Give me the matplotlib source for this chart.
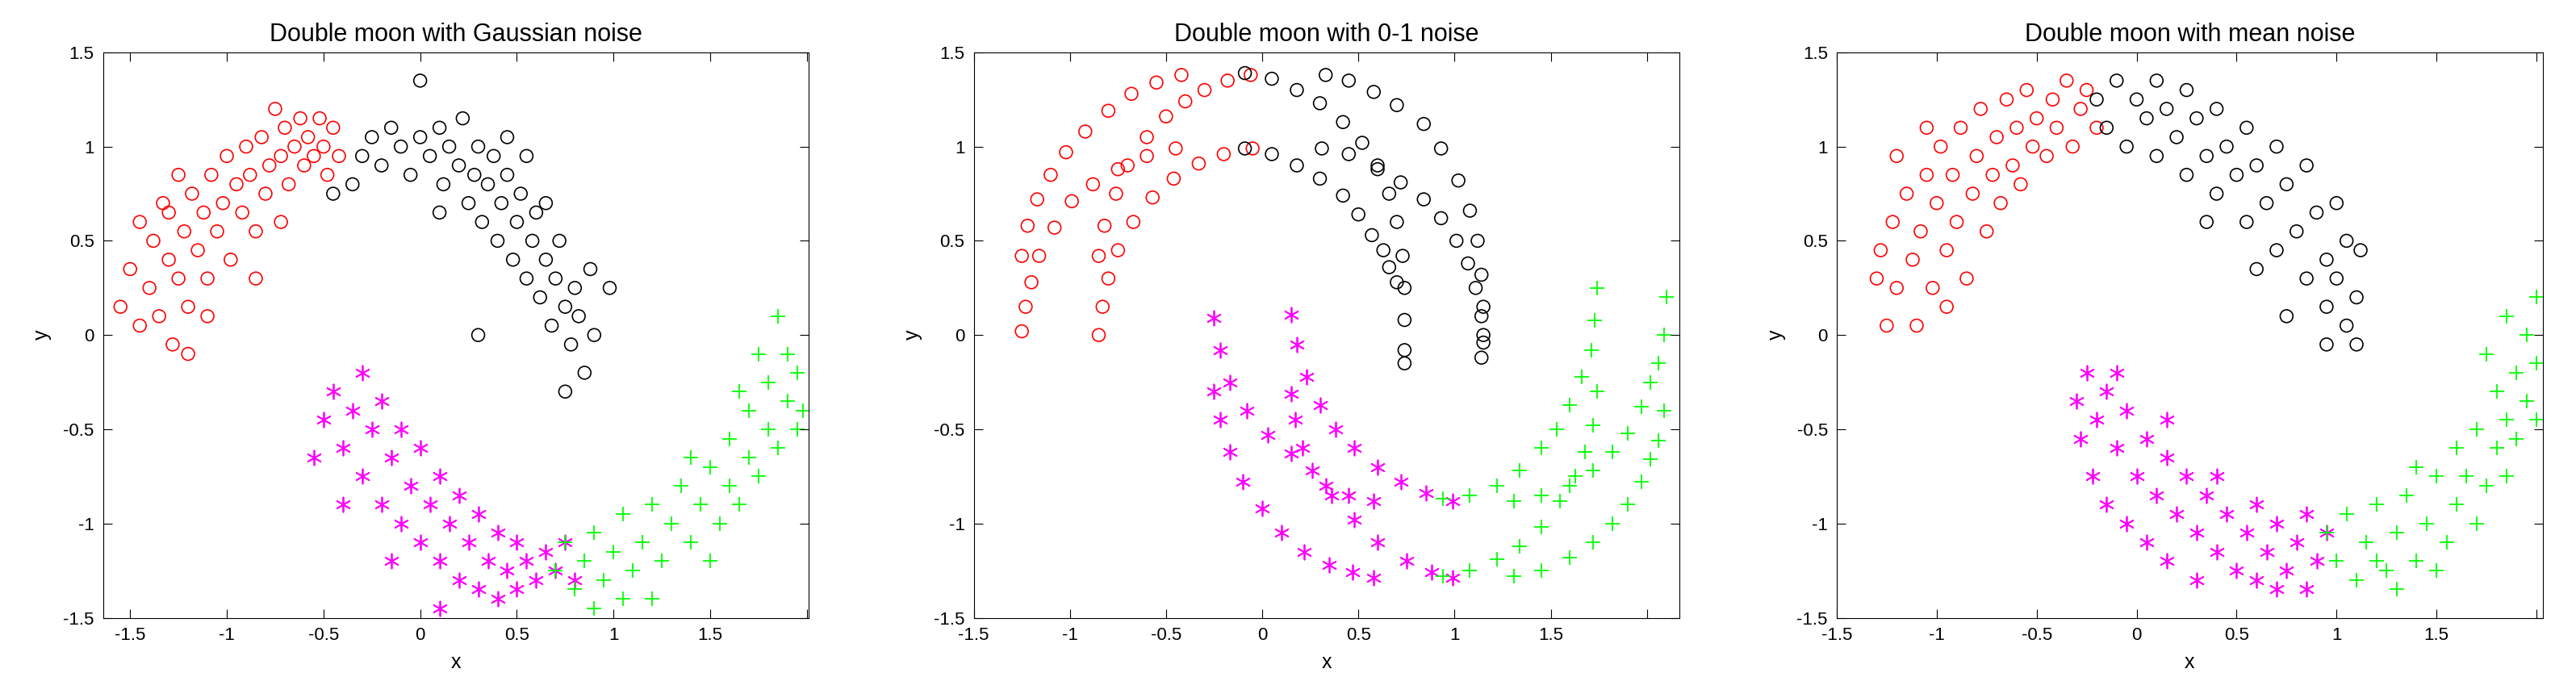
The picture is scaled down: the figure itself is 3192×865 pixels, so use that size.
import matplotlib
matplotlib.use("Agg")
import matplotlib.pyplot as plt
import numpy as np

plt.rcParams['font.family'] = ['Liberation Sans', 'DejaVu Sans']

titles = ["Double moon with Gaussian noise", "Double moon with 0-1 noise", "Double moon with mean noise"]
xlims = [(-1.64, 2.01), (-1.5, 2.17), (-1.5, 2.03)]
xtick_vals = [-1.5, -1, -0.5, 0, 0.5, 1, 1.5, 2]
xtick_labels = ["-1.5", "-1", "-0.5", "0", "0.5", "1", "1.5", ""]
ytick_vals = [-1.5, -1, -0.5, 0, 0.5, 1, 1.5]
ytick_labels = ["-1.5", "-1", "-0.5", "0", "0.5", "1", "1.5"]

# ---- Panel 1 (Gaussian noise)
g_red = [(-1.55,0.15),(-1.5,0.35),(-1.45,0.05),(-1.4,0.25),(-1.38,0.5),(-1.35,0.1),(-1.3,0.4),(-1.3,0.65),(-1.28,-0.05),(-1.25,0.3),(-1.22,0.55),(-1.2,0.15),(-1.18,0.75),(-1.15,0.45),(-1.12,0.65),(-1.1,0.3),(-1.08,0.85),(-1.05,0.55),(-1.02,0.7),(-1.0,0.95),(-0.98,0.4),(-0.95,0.8),(-0.92,0.65),(-0.9,1.0),(-0.88,0.85),(-0.85,0.55),(-0.82,1.05),(-0.8,0.75),(-0.78,0.9),(-0.75,1.2),(-0.72,0.95),(-0.7,1.1),(-0.68,0.8),(-0.65,1.0),(-0.62,1.15),(-0.6,0.9),(-0.58,1.05),(-0.55,0.95),(-0.52,1.15),(-0.5,1.0),(-0.48,0.85),(-0.45,1.1),(-0.42,0.95),(-1.33,0.7),(-1.45,0.6),(-1.2,-0.1),(-1.1,0.1),(-0.85,0.3),(-0.72,0.6),(-1.25,0.85)]
g_black = [(-0.35,0.8),(-0.3,0.95),(-0.25,1.05),(-0.2,0.9),(-0.15,1.1),(-0.1,1.0),(-0.05,0.85),(0.0,1.05),(0.0,1.35),(0.05,0.95),(0.1,1.1),(0.12,0.8),(0.15,1.0),(0.2,0.9),(0.22,1.15),(0.25,0.7),(0.28,0.85),(0.3,1.0),(0.32,0.6),(0.35,0.8),(0.38,0.95),(0.4,0.5),(0.42,0.7),(0.45,0.85),(0.48,0.4),(0.5,0.6),(0.52,0.75),(0.55,0.3),(0.58,0.5),(0.6,0.65),(0.62,0.2),(0.65,0.4),(0.68,0.05),(0.7,0.3),(0.72,0.5),(0.75,0.15),(0.78,-0.05),(0.8,0.25),(0.82,0.1),(0.85,-0.2),(0.88,0.35),(0.9,0.0),(0.75,-0.3),(0.3,0.0),(0.98,0.25),(0.55,0.95),(-0.45,0.75),(0.1,0.65),(0.45,1.05),(0.65,0.7)]
g_magenta = [(-0.5,-0.45),(-0.45,-0.3),(-0.4,-0.6),(-0.35,-0.4),(-0.3,-0.2),(-0.3,-0.75),(-0.25,-0.5),(-0.2,-0.35),(-0.2,-0.9),(-0.15,-0.65),(-0.1,-0.5),(-0.1,-1.0),(-0.05,-0.8),(0.0,-0.6),(0.0,-1.1),(0.05,-0.9),(0.1,-0.75),(0.1,-1.2),(0.15,-1.0),(0.2,-0.85),(0.2,-1.3),(0.25,-1.1),(0.3,-0.95),(0.3,-1.35),(0.35,-1.2),(0.4,-1.05),(0.4,-1.4),(0.45,-1.25),(0.5,-1.1),(0.5,-1.35),(0.55,-1.2),(0.6,-1.3),(0.65,-1.15),(0.7,-1.25),(0.75,-1.1),(-0.4,-0.9),(-0.15,-1.2),(0.1,-1.45),(0.8,-1.3),(-0.55,-0.65)]
g_green = [(0.7,-1.25),(0.75,-1.1),(0.8,-1.35),(0.85,-1.2),(0.9,-1.05),(0.95,-1.3),(1.0,-1.15),(1.05,-0.95),(1.1,-1.25),(1.15,-1.1),(1.2,-0.9),(1.25,-1.2),(1.3,-1.0),(1.35,-0.8),(1.4,-1.1),(1.45,-0.9),(1.5,-0.7),(1.55,-1.0),(1.6,-0.8),(1.6,-0.55),(1.65,-0.9),(1.7,-0.65),(1.7,-0.4),(1.75,-0.75),(1.8,-0.5),(1.8,-0.25),(1.85,-0.6),(1.9,-0.35),(1.9,-0.1),(1.95,-0.5),(1.95,-0.2),(1.98,-0.4),(1.85,0.1),(1.75,-0.1),(1.5,-1.2),(1.2,-1.4),(0.9,-1.45),(1.65,-0.3),(1.4,-0.65),(1.05,-1.4)]

# ---- Panel 2 (0-1 noise): points along each arc
b_red = [(-1.25,0.42),(-1.22,0.58),(-1.17,0.72),(-1.1,0.85),(-1.02,0.97),(-0.92,1.08),(-0.8,1.19),(-0.68,1.28),(-0.55,1.34),(-0.42,1.38),
         (-1.25,0.02),(-1.23,0.15),(-1.2,0.28),(-1.16,0.42),(-1.08,0.57),(-0.99,0.71),(-0.88,0.8),(-0.75,0.88),(-0.6,0.95),(-0.45,0.99),
         (-0.85,0.42),(-0.82,0.58),(-0.76,0.75),(-0.7,0.9),(-0.6,1.05),(-0.5,1.16),(-0.4,1.24),(-0.3,1.3),(-0.18,1.35),(-0.06,1.38),
         (-0.85,0.0),(-0.83,0.15),(-0.8,0.3),(-0.75,0.45),(-0.67,0.6),(-0.57,0.73),(-0.46,0.83),(-0.33,0.91),(-0.2,0.96),(-0.05,0.99)]
b_black = [(-0.09,1.39),(0.05,1.36),(0.18,1.3),(0.3,1.23),(0.42,1.13),(0.52,1.02),(0.6,0.88),(0.66,0.75),(0.7,0.6),(0.73,0.42),(0.74,0.25),(0.74,0.08),(0.74,-0.08),(0.74,-0.15),
           (-0.09,0.99),(0.05,0.96),(0.18,0.9),(0.3,0.83),(0.42,0.74),(0.5,0.64),(0.57,0.53),(0.63,0.45),(0.66,0.36),(0.7,0.28),
           (0.33,1.38),(0.45,1.35),(0.58,1.29),(0.7,1.22),(0.84,1.12),(0.93,0.99),(1.02,0.82),(1.08,0.66),(1.12,0.5),(1.14,0.32),(1.15,0.15),(1.15,0.0),(1.14,-0.12),
           (0.31,0.99),(0.45,0.96),(0.6,0.9),(0.72,0.81),(0.84,0.72),(0.93,0.62),(1.01,0.5),(1.07,0.38),(1.11,0.25),(1.14,0.1),(1.15,-0.04)]
b_magenta = [(-0.25,0.09),(-0.22,-0.08),(-0.17,-0.25),(-0.08,-0.4),(0.03,-0.53),(0.15,-0.63),(0.26,-0.72),(0.36,-0.85),(0.48,-0.98),(0.6,-1.1),(0.75,-1.2),(0.88,-1.26),(0.99,-1.29),
             (-0.25,-0.3),(-0.22,-0.45),(-0.17,-0.62),(-0.1,-0.78),(0.0,-0.92),(0.1,-1.05),(0.22,-1.15),(0.35,-1.22),(0.47,-1.26),(0.58,-1.29),
             (0.15,0.11),(0.18,-0.05),(0.23,-0.22),(0.3,-0.37),(0.38,-0.5),(0.48,-0.6),(0.6,-0.7),(0.72,-0.78),(0.85,-0.84),(0.99,-0.88),
             (0.15,-0.31),(0.17,-0.45),(0.21,-0.6),(0.33,-0.8),(0.45,-0.85),(0.58,-0.88)]
b_green = [(0.94,-0.87),(1.08,-0.85),(1.22,-0.8),(1.34,-0.72),(1.45,-0.6),(1.53,-0.5),(1.6,-0.37),(1.66,-0.22),(1.71,-0.08),(1.73,0.08),(1.74,0.25),
           (1.31,-0.88),(1.45,-0.85),(1.6,-0.8),(1.72,-0.72),(1.82,-0.62),(1.9,-0.52),(1.97,-0.38),(2.02,-0.25),(2.06,-0.15),(2.09,0.0),(2.1,0.2),
           (0.94,-1.28),(1.08,-1.25),(1.22,-1.19),(1.34,-1.12),(1.45,-1.02),(1.55,-0.88),(1.63,-0.75),(1.68,-0.62),(1.72,-0.48),(1.74,-0.3),
           (1.31,-1.28),(1.45,-1.25),(1.6,-1.18),(1.72,-1.1),(1.82,-1.0),(1.9,-0.9),(1.97,-0.78),(2.02,-0.66),(2.06,-0.56),(2.09,-0.4)]

# ---- Panel 3 (mean noise)
m_red = [(-1.3,0.3),(-1.28,0.45),(-1.25,0.05),(-1.22,0.6),(-1.2,0.25),(-1.15,0.75),(-1.12,0.4),(-1.1,0.05),(-1.08,0.55),(-1.05,0.85),(-1.02,0.25),(-1.0,0.7),(-0.98,1.0),(-0.95,0.45),(-0.92,0.85),(-0.9,0.6),(-0.88,1.1),(-0.85,0.3),(-0.82,0.75),(-0.8,0.95),(-0.78,1.2),(-0.75,0.55),(-0.72,0.85),(-0.7,1.05),(-0.68,0.7),(-0.65,1.25),(-0.62,0.9),(-0.6,1.1),(-0.58,0.8),(-0.55,1.3),(-0.52,1.0),(-0.5,1.15),(-0.45,0.95),(-0.42,1.25),(-0.4,1.1),(-0.35,1.35),(-0.32,1.0),(-0.28,1.2),(-0.25,1.3),(-0.2,1.1),(-0.95,0.15),(-1.2,0.95),(-1.05,1.1)]
m_black = [(-0.2,1.25),(-0.15,1.1),(-0.1,1.35),(-0.05,1.0),(0.0,1.25),(0.05,1.15),(0.1,1.35),(0.1,0.95),(0.15,1.2),(0.2,1.05),(0.25,1.3),(0.25,0.85),(0.3,1.15),(0.35,0.95),(0.4,1.2),(0.4,0.75),(0.45,1.0),(0.5,0.85),(0.55,1.1),(0.55,0.6),(0.6,0.9),(0.65,0.7),(0.7,1.0),(0.7,0.45),(0.75,0.8),(0.8,0.55),(0.85,0.3),(0.85,0.9),(0.9,0.65),(0.95,0.4),(0.95,0.15),(1.0,0.7),(1.0,0.3),(1.05,0.05),(1.05,0.5),(1.1,0.2),(1.1,-0.05),(1.12,0.45),(0.75,0.1),(0.95,-0.05),(0.35,0.6),(0.6,0.35)]
m_magenta = [(-0.3,-0.35),(-0.28,-0.55),(-0.25,-0.2),(-0.22,-0.75),(-0.2,-0.45),(-0.15,-0.3),(-0.15,-0.9),(-0.1,-0.6),(-0.05,-0.4),(-0.05,-1.0),(0.0,-0.75),(0.05,-0.55),(0.05,-1.1),(0.1,-0.85),(0.15,-0.65),(0.15,-1.2),(0.2,-0.95),(0.25,-0.75),(0.3,-1.05),(0.3,-1.3),(0.35,-0.85),(0.4,-1.15),(0.45,-0.95),(0.5,-1.25),(0.55,-1.05),(0.6,-0.9),(0.6,-1.3),(0.65,-1.15),(0.7,-1.0),(0.75,-1.25),(0.8,-1.1),(0.85,-0.95),(0.85,-1.35),(0.9,-1.2),(0.95,-1.05),(0.15,-0.45),(0.4,-0.75),(-0.1,-0.2),(0.7,-1.35)]
m_green = [(0.95,-1.05),(1.0,-1.2),(1.05,-0.95),(1.1,-1.3),(1.15,-1.1),(1.2,-0.9),(1.25,-1.25),(1.3,-1.05),(1.35,-0.85),(1.4,-1.2),(1.45,-1.0),(1.5,-0.75),(1.55,-1.1),(1.6,-0.9),(1.6,-0.6),(1.65,-0.75),(1.7,-1.0),(1.7,-0.5),(1.75,-0.8),(1.8,-0.6),(1.8,-0.3),(1.85,-0.45),(1.85,-0.75),(1.9,-0.2),(1.9,-0.55),(1.95,-0.35),(1.95,0.0),(2.0,-0.15),(2.0,0.2),(1.75,-0.1),(1.85,0.1),(1.3,-1.35),(1.5,-1.25),(1.4,-0.7),(1.2,-1.2),(2.0,-0.45)]

panels = [(g_red, g_black, g_magenta, g_green),
          (b_red, b_black, b_magenta, b_green),
          (m_red, m_black, m_magenta, m_green)]

asterisk = (6, 2, 0)

fig = plt.figure(figsize=(31.92, 8.65), dpi=100)
lefts = [0.040, 0.378, 0.713]
for i, (red, black, mag, green) in enumerate(panels):
    ax = fig.add_axes([lefts[i], 0.115, 0.274, 0.81])
    for pts, col, mk in [(red, '#ff0000', 'o'), (black, '#000000', 'o'),
                         (mag, '#ff00ff', asterisk), (green, '#00ff00', '+')]:
        a = np.array(pts)
        if mk == 'o':
            ax.scatter(a[:, 0], a[:, 1], s=130, facecolors='none', edgecolors=col, linewidths=1.2)
        else:
            ax.scatter(a[:, 0], a[:, 1], s=170, c=col, marker=mk, linewidths=1.3)
    ax.set_xlim(*xlims[i])
    ax.set_ylim(-1.5, 1.5)
    ax.set_xticks(xtick_vals)
    ax.set_xticklabels(xtick_labels)
    ax.set_yticks(ytick_vals)
    ax.set_yticklabels(ytick_labels)
    ax.tick_params(direction='in', top=True, right=True, length=8, labelsize=16, pad=8)
    ax.set_title(titles[i], fontsize=22, pad=10)
    ax.set_xlabel('x', fontsize=18, labelpad=8)
    ax.set_ylabel('y', fontsize=18, labelpad=10)

fig.savefig('out.png', dpi=100)
